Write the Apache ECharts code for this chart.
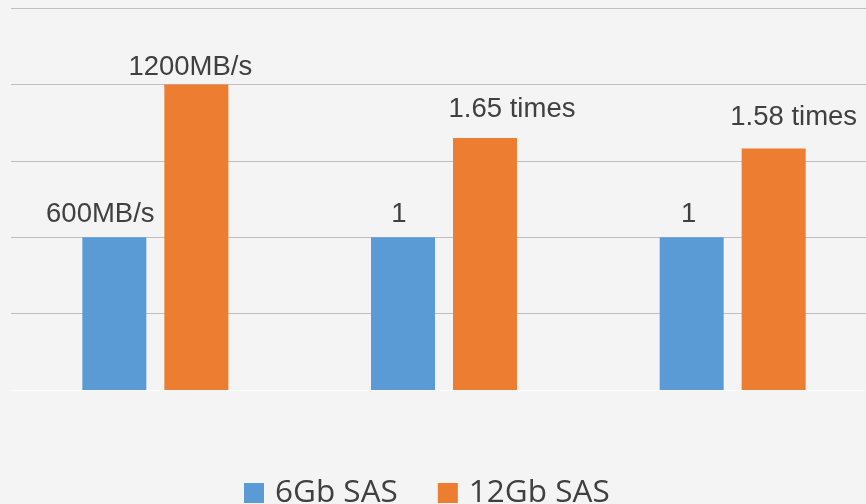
<!DOCTYPE html>
<html>
<head>
<meta charset="utf-8">
<script src="https://cdn.jsdelivr.net/npm/echarts@6/dist/echarts.min.js"></script>
<style>html,body{margin:0;padding:0;background:#f4f4f4;}#c{width:866px;height:504px;}</style>
</head>
<body>
<div id="c"></div>
<script>
const categories = ['Bandwidth', 'Performance A', 'Performance B'];
const seriesNames = ['6Gb SAS', '12Gb SAS'];
const values6Gb = [2, 2, 2];
const values12Gb = [4, 3.3, 3.16];
const labels6Gb = ['600MB/s', '1', '1'];
const labels12Gb = ['1200MB/s', '1.65 times', '1.58 times'];

// label placement tweaks (positions only)
const offsets6Gb = [[-14, -9], [-4, -8.5], [-3, -8.5]];
const offsets12Gb = [[-6, -3], [27, -14], [20, -17]];

function build(values, labels, offsets) {
  return values.map((v, i) => ({
    value: v,
    label: { formatter: labels[i], offset: offsets[i] }
  }));
}

const labelStyle = {
  show: true, position: 'top', distance: 0,
  fontFamily: 'Liberation Sans', fontSize: 27.5, color: '#404040'
};

const chart = echarts.init(document.getElementById('c'), null, { renderer: 'canvas' });
chart.setOption({
  backgroundColor: '#f4f4f4',
  animation: false,
  grid: { left: 11, width: 866, top: 8, bottom: 114, containLabel: false, outerBoundsMode: 'none' },
  legend: {
    data: seriesNames,
    left: 244, top: 477, padding: 0,
    icon: 'rect', itemWidth: 20, itemHeight: 20, itemGap: 40,
    textStyle: { fontFamily: 'Open Sans', fontSize: 31.5, color: '#404040', padding: [0, 0, 0, 6] }
  },
  xAxis: {
    type: 'category', data: categories,
    axisLine: { show: true, lineStyle: { color: '#fbfbfb', width: 1 } },
    axisTick: { show: false }, axisLabel: { show: false }
  },
  yAxis: {
    type: 'value', min: 0, max: 5, interval: 1,
    axisLine: { show: false }, axisTick: { show: false }, axisLabel: { show: false },
    splitLine: { lineStyle: { color: '#bfbfbf', width: 1 } }
  },
  series: [
    {
      name: seriesNames[0], type: 'bar', barWidth: 64, barGap: '28.125%',
      itemStyle: { color: '#5b9bd5' },
      label: labelStyle,
      data: build(values6Gb, labels6Gb, offsets6Gb)
    },
    {
      name: seriesNames[1], type: 'bar', barWidth: 64, barGap: '28.125%',
      itemStyle: { color: '#ed7d31' },
      label: labelStyle,
      data: build(values12Gb, labels12Gb, offsets12Gb)
    }
  ]
});
</script>
</body>
</html>
